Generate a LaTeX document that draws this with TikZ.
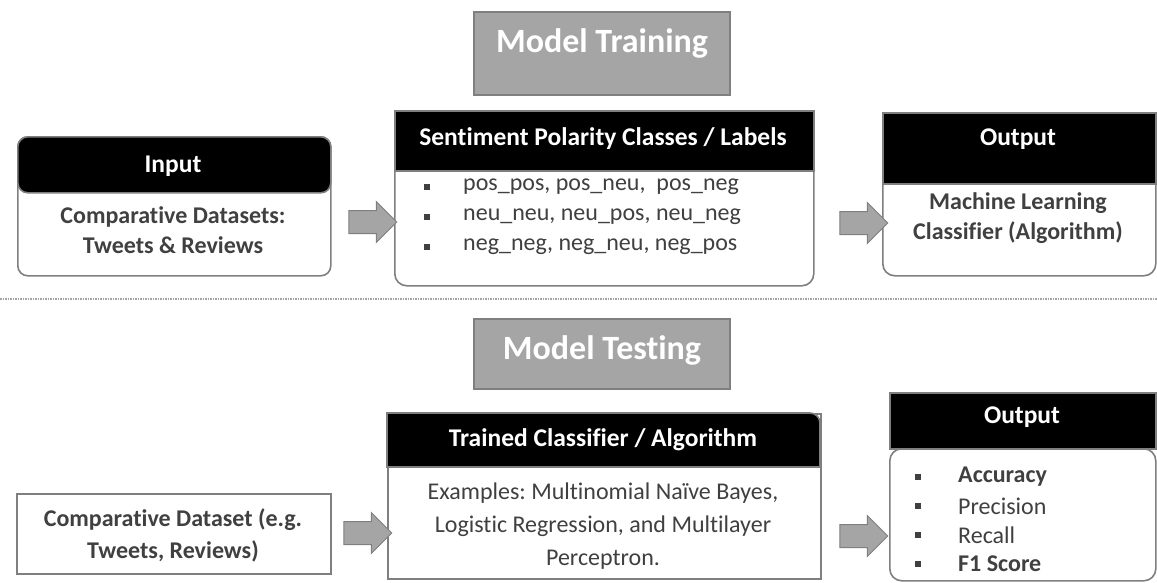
\documentclass[tikz,border=0pt]{standalone}
\usepackage{fontspec}
\setmainfont{Carlito}[Ligatures=NoCommon]
\usepackage{tikz}
\usetikzlibrary{shapes.arrows,calc}
\frenchspacing

\definecolor{boxline}{HTML}{7F7F7F}
\definecolor{titlefill}{HTML}{A5A5A5}
\definecolor{bodytext}{HTML}{404040}

\begin{document}
\begin{tikzpicture}[x=1pt,y=1pt,
	frame/.style={draw=boxline,line width=1.6pt,fill=white,anchor=north west,inner sep=0pt},
	headbox/.style={draw=boxline,line width=1.6pt,fill=black,anchor=north west,inner sep=0pt},
	titlebox/.style={draw=boxline,line width=1.6pt,fill=titlefill,anchor=north west,inner sep=0pt},
	titletxt/.style={text=white,font=\fontsize{34}{38}\selectfont\bfseries},
	headtxt/.style={text=white,font=\fontsize{25.5}{30}\selectfont\bfseries},
	boldtxt/.style={text=bodytext,align=center,font=\fontsize{24}{30}\selectfont\bfseries},
	plaintxt/.style={text=bodytext,align=center,font=\fontsize{24}{32}\selectfont},
	listtxt/.style={text=bodytext,anchor=west,inner sep=0pt,font=\fontsize{24}{28}\selectfont},
	bullet/.style={fill=bodytext,minimum size=6pt,inner sep=0pt},
	blockarrow/.style={single arrow,draw=boxline,fill=titlefill,line width=1pt,
		minimum height=48pt,inner xsep=0pt,inner ysep=11pt,single arrow head extend=9pt}
	]
	\useasboundingbox (0,0) rectangle (1157,-582);
	
	% titles
	\node [titlebox,minimum width=256pt,minimum height=83pt] (train) at (473,-11) {};
	\node [titletxt] (traintxt) at (602,-43) {Model Training};
	\node [titlebox,minimum width=256pt,minimum height=70pt] (test) at (473,-318) {};
	\node [titletxt] (testtxt) at (602,-350) {Model Testing};
	
	% separator
	\coordinate (sepl) at (0,-299);
	\coordinate (sepr) at (1157,-299);
	\draw [boxline!70,line width=1.5pt,densely dotted] (sepl) -- (sepr);
	
	% % % % % % % % % % training % % % % % % % % % %
	\node [frame,rounded corners=10pt,minimum width=313pt,minimum height=139pt] (inp) at (17,-136) {};
	\node [headbox,rounded corners=10pt,minimum width=313pt,minimum height=56pt] (inphead) at (17,-136) {};
	\node [headtxt] (inptitle) at (173,-166) {Input};
	\node [boldtxt] (inptxt) at (173,-230) {Comparative Datasets:\\Tweets \& Reviews};
	
	\node [frame,rounded corners=12pt,minimum width=419pt,minimum height=175pt] (sent) at (394,-110) {};
	\node [headbox,minimum width=419pt,minimum height=60pt] (senthead) at (394,-110) {};
	\node [headtxt] (senttitle) at (603,-139) {Sentiment Polarity Classes / Labels};
	\foreach \t [count=\i] in {{pos\_pos, pos\_neu,\ \ pos\_neg},{neu\_neu, neu\_pos, neu\_neg},{neg\_neg, neg\_neu, neg\_pos}}
	{
		\node [bullet] (sb\i) at (427,-157-30*\i) {};
		\node [listtxt] (sl\i) at (463,-157-30*\i) {\t};
	}
	
	\node [frame,rounded corners=12pt,minimum width=273pt,minimum height=163pt] (outa) at (882,-112) {};
	\node [headbox,minimum width=273pt,minimum height=71pt] (outahead) at (882,-112) {};
	\node [headtxt] (outatitle) at (1018,-139) {Output};
	\node [boldtxt] (outatxt) at (1018,-218) {Machine Learning\\Classifier (Algorithm)};
	
	\node [blockarrow] (arr1) at (367,-222) {};
	\node [blockarrow] (arr2) at (858,-223) {};
	
	% % % % % % % % % % testing % % % % % % % % % %
	\node [frame,minimum width=314pt,minimum height=80pt] (data) at (16,-493) {};
	\node [boldtxt,font=\fontsize{24}{32}\selectfont\bfseries] (datatxt) at (173,-535) {Comparative Dataset (e.g.\\Tweets, Reviews)};
	
	\node [frame,minimum width=433pt,minimum height=165pt] (trn) at (387,-413) {};
	\draw [boxline,line width=1.6pt,fill=black] (387,-467) -- (387,-413) -- (810,-413) arc [start angle=90,end angle=0,radius=10] -- (820,-467) -- cycle;
	\node [headtxt] (trntitle) at (603,-440) {Trained Classifier / Algorithm};
	\node [plaintxt,font=\fontsize{24}{33}\selectfont] (trntxt) at (603,-526) {Examples: Multinomial Naïve Bayes,\\Logistic Regression, and Multilayer\\Perceptron.};
	
	\node [frame,rounded corners=12pt,minimum width=266pt,minimum height=132pt] (outb) at (889,-448) {};
	\node [headbox,minimum width=266pt,minimum height=56pt] (outbhead) at (889,-392) {};
	\node [headtxt] (outbtitle) at (1022,-417) {Output};
	\foreach \t [count=\i] in {\textbf{Accuracy},Precision,Recall,\textbf{F1 Score}}
	{
		\node [bullet] (ob\i) at (918,-448-29*\i) {};
		\node [listtxt] (ol\i) at (958,-448-29*\i) {\t};
	}
	
	\node [blockarrow] (arr3) at (362,-533) {};
	\node [blockarrow] (arr4) at (858,-536) {};
\end{tikzpicture}
\end{document}
